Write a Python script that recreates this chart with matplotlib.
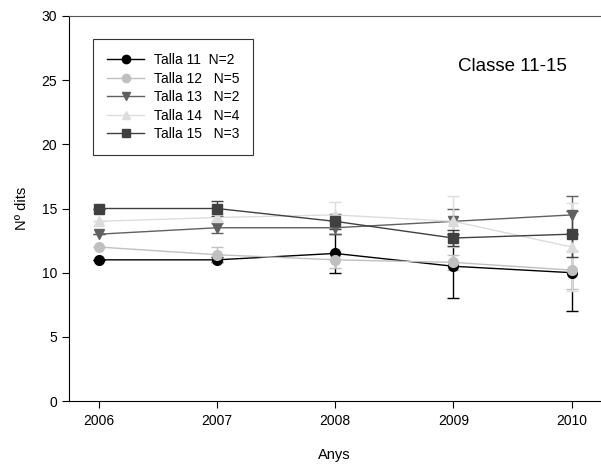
import matplotlib

matplotlib.use("Agg")
import matplotlib.pyplot as plt
from matplotlib.lines import Line2D

plt.rcParams["font.family"] = ["Liberation Sans", "DejaVu Sans"]

anys = [2006, 2007, 2008, 2009, 2010]

talla11 = [11.0, 11.0, 11.5, 10.5, 10.0]
err11 = [0.0, 0.2, 1.5, 2.5, 3.0]
talla12 = [12.0, 11.4, 11.0, 10.8, 10.2]
err12 = [0.0, 0.6, 0.6, 0.6, 1.5]
talla13 = [13.0, 13.5, 13.5, 14.0, 14.5]
err13 = [0.0, 0.4, 0.5, 1.0, 1.5]
talla14 = [14.0, 14.3, 14.5, 14.0, 12.0]
err14 = [0.0, 0.3, 1.0, 2.0, 3.4]
talla15 = [15.0, 15.0, 14.0, 12.7, 13.0]
err15 = [0.0, 0.6, 0.6, 0.6, 1.8]

labels = ["Talla 11  N=2", "Talla 12   N=5", "Talla 13   N=2",
          "Talla 14   N=4", "Talla 15   N=3"]

series = [
    (talla11, err11, "o", "#000000"),
    (talla12, err12, "o", "#c0c0c0"),
    (talla13, err13, "v", "#606060"),
    (talla14, err14, "^", "#dcdcdc"),
    (talla15, err15, "s", "#404040"),
]

fig = plt.figure(figsize=(6.01, 4.65), dpi=100)
ax = fig.add_axes([0.1148, 0.1376, 0.8835, 0.828])

handles = []
for (vals, errs, mk, col), lab in zip(series, labels):
    ax.errorbar(anys, vals, yerr=errs, fmt="-", marker=mk, color=col,
                ecolor=col, elinewidth=1.0, capsize=4, capthick=1.0,
                lw=1.0, ms=7)
    handles.append(Line2D([], [], color=col, marker=mk, lw=1.0, ms=6,
                          label=lab))

ax.set_xlim(2005.75, 2010.24)
ax.set_ylim(0, 30)
ax.set_xticks(anys)
ax.set_yticks(range(0, 31, 5))
ax.tick_params(direction="out", length=5, width=0.8, labelsize=10)
ax.tick_params(axis="x", pad=4)
ax.spines["right"].set_visible(False)
ax.spines["top"].set_color("#555555")
for s in ("left", "bottom", "top"):
    ax.spines[s].set_linewidth(0.8)

ax.set_xlabel("Anys", fontsize=10.5)
ax.set_ylabel("Nº dits", fontsize=10.5)
ax.xaxis.set_label_coords(0.5, -0.122)
ax.yaxis.set_label_coords(-0.075, 0.5)

ax.text(0.937, 0.87, "Classe 11-15", transform=ax.transAxes, fontsize=13.5,
        ha="right", va="center")

leg = ax.legend(handles=handles, loc="upper left",
                bbox_to_anchor=(0.045, 0.94), borderaxespad=0, fontsize=10,
                frameon=True, fancybox=False, edgecolor="black",
                handlelength=2.7, labelspacing=0.33, borderpad=1.0,
                handletextpad=0.7)
leg.get_frame().set_linewidth(0.8)

fig.savefig("out.png", dpi=100)
